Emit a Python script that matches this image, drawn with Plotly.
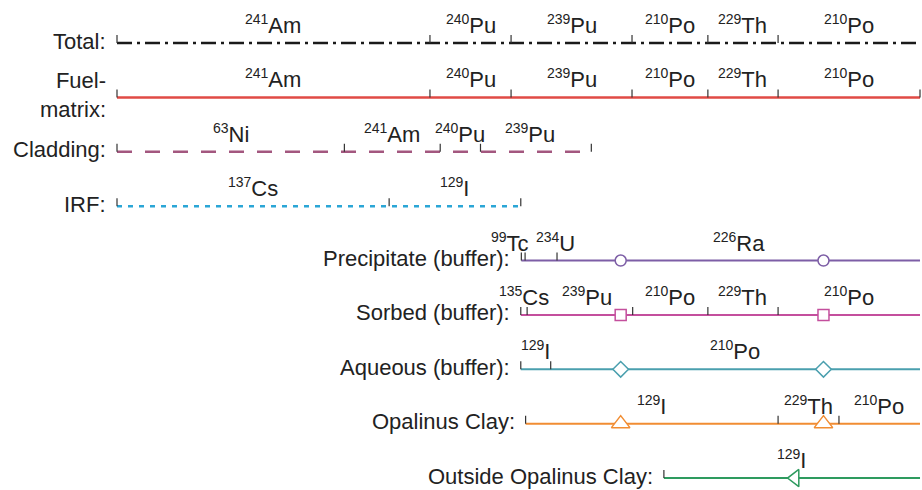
import re
import numpy as np
import plotly.graph_objects as go

# ---------------- data (times in years) ----------------
row_names = ["Total:", "Fuel-<br>matrix:", "Cladding:", "IRF:", "Precipitate (buffer):",
             "Sorbed (buffer):", "Aqueous (buffer):", "Opalinus Clay:", "Outside Opalinus Clay:"]

total_bounds = [10, 2180, 8800, 70500, 260000, 870000, 1e7]
total_nuclides = ["241Am", "240Pu", "239Pu", "210Po", "229Th", "210Po"]

fuel_bounds = [10, 2180, 8800, 70500, 260000, 870000, 1e7]
fuel_nuclides = ["241Am", "240Pu", "239Pu", "210Po", "229Th", "210Po"]

cladding_bounds = [10, 500, 2600, 5200, 35000]
cladding_nuclides = ["63Ni", "241Am", "240Pu", "239Pu"]

irf_bounds = [10, 1080, 10400]
irf_nuclides = ["137Cs", "129I"]

precip_bounds = [10500, 11200, 19400, 1e7]
precip_nuclides = ["99Tc", "234U", "226Ra"]
precip_markers = [58000, 1.9e6]

sorbed_bounds = [10400, 11600, 71300, 260000, 870000, 1e7]
sorbed_nuclides = ["135Cs", "239Pu", "210Po", "229Th", "210Po"]
sorbed_markers = [58000, 1.9e6]

aqueous_bounds = [10400, 17400, 1e7]
aqueous_nuclides = ["129I", "210Po"]
aqueous_markers = [58000, 1.9e6]

opalinus_bounds = [11300, 870000, 2480000, 1e7]
opalinus_nuclides = ["129I", "229Th", "210Po"]
opalinus_markers = [58000, 1.9e6]

outside_bounds = [122000, 1e7]
outside_nuclides = ["129I"]
outside_markers = [1.165e6]

# ---------------- styling ----------------
rows = [
    dict(b=total_bounds, n=total_nuclides, m=[], color="#1a1a1a", dash="15px,5px,3px,5px", w=2.4, sym=None, ms=0, end_tick=False),
    dict(b=fuel_bounds, n=fuel_nuclides, m=[], color="#e04a45", dash="solid", w=2.5, sym=None, ms=0, end_tick=True),
    dict(b=cladding_bounds, n=cladding_nuclides, m=[], color="#a3577f", dash="15px,13px", w=2.5, sym=None, ms=0, end_tick=True),
    dict(b=irf_bounds, n=irf_nuclides, m=[], color="#2ba6d6", dash="5px,6px", w=2.5, sym=None, ms=0, end_tick=True),
    dict(b=precip_bounds, n=precip_nuclides, m=precip_markers, color="#7d5ea6", dash="solid", w=2, sym="circle", ms=11, end_tick=False),
    dict(b=sorbed_bounds, n=sorbed_nuclides, m=sorbed_markers, color="#c44f9d", dash="solid", w=2, sym="square", ms=11, end_tick=False),
    dict(b=aqueous_bounds, n=aqueous_nuclides, m=aqueous_markers, color="#4a9fae", dash="solid", w=2, sym="diamond", ms=12, end_tick=False),
    dict(b=opalinus_bounds, n=opalinus_nuclides, m=opalinus_markers, color="#f18d33", dash="solid", w=2, sym="triangle-up", ms=16, end_tick=False),
    dict(b=outside_bounds, n=outside_nuclides, m=outside_markers, color="#2e9b5f", dash="solid", w=2, sym="triangle-left", ms=15, end_tick=False),
]

# pixel nudges for crowded labels (row, segment): px
label_nudge = {(4, 0): -13, (4, 1): 14, (5, 1): 7, (2, 3): -6}

X_RANGE = [0.1258, 7.0149]
PX_PER_DEC = 922 / (X_RANGE[1] - X_RANGE[0])
Y_RANGE = [8.220, -0.791]
PX_PER_ROW = 490 / (Y_RANGE[0] - Y_RANGE[1])
TICK_H = 8 / PX_PER_ROW

FONT = "Liberation Sans, Arial, sans-serif"
TXT = "#222222"
FS = 22
SUP_FS = 14

fig = go.Figure()
annotations = []

for i, r in enumerate(rows):
    b = r["b"]
    # main line
    fig.add_trace(go.Scatter(x=[b[0], b[-1]], y=[i, i], mode="lines",
                             line=dict(color=r["color"], width=r["w"], dash=r["dash"]),
                             hoverinfo="skip", showlegend=False))
    # boundary ticks
    tick_pts = list(b[:-1]) + ([b[-1]] if r["end_tick"] else [])
    tx, ty = [], []
    for t in tick_pts:
        tx += [t, t, None]
        ty += [i, i - TICK_H, None]
    fig.add_trace(go.Scatter(x=tx, y=ty, mode="lines",
                             line=dict(color="#333333", width=1.2),
                             hoverinfo="skip", showlegend=False))
    # markers
    if r["m"]:
        fig.add_trace(go.Scatter(x=r["m"], y=[i] * len(r["m"]), mode="markers",
                                 marker=dict(symbol=r["sym"], size=r["ms"], color="white",
                                             line=dict(color=r["color"], width=1.5)),
                                 hoverinfo="skip", showlegend=False))
    # nuclide labels
    for k, nuc in enumerate(r["n"]):
        mass, sym = re.match(r"(\d+)(\D+)", nuc).groups()
        xm = (np.log10(b[k]) + np.log10(b[k + 1])) / 2
        xm += label_nudge.get((i, k), 0) / PX_PER_DEC
        annotations.append(dict(x=xm, y=i, xref="x", yref="y",
                                text=f"<sup><span style='font-size:{SUP_FS}px'>{mass}</span></sup>{sym}",
                                showarrow=False,
                                xanchor="center", yanchor="bottom", yshift=3,
                                font=dict(family=FONT, size=FS, color=TXT)))
    # row label
    annotations.append(dict(x=np.log10(b[0]), y=i, xref="x", yref="y",
                            text=row_names[i], showarrow=False, align="right",
                            xanchor="right", yanchor="middle", xshift=-9, yshift=2,
                            font=dict(family=FONT, size=FS, color=TXT)))

fig.update_layout(
    width=922, height=490,
    margin=dict(l=0, r=0, t=0, b=0),
    paper_bgcolor="white", plot_bgcolor="white",
    xaxis=dict(type="log", range=X_RANGE, visible=False, showgrid=False, zeroline=False),
    yaxis=dict(range=Y_RANGE, visible=False, showgrid=False, zeroline=False),
    annotations=annotations,
)

fig.write_html("out.html")
